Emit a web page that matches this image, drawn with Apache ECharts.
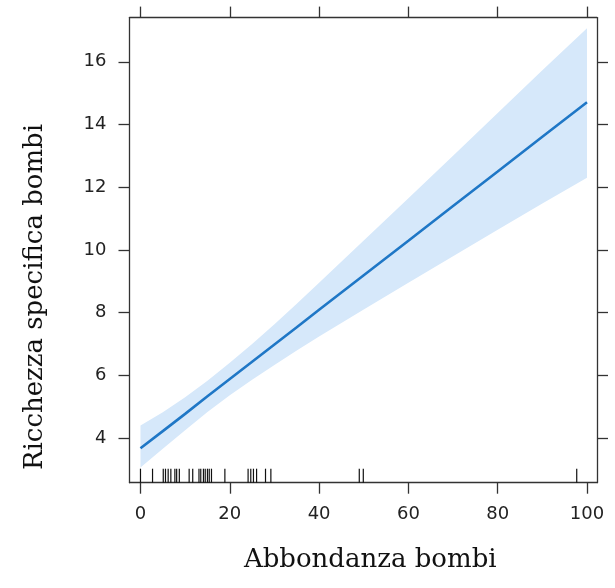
<!DOCTYPE html>
<html>
<head>
<meta charset="utf-8">
<script src="https://cdn.jsdelivr.net/npm/echarts@6/dist/echarts.min.js"></script>
<style>html,body{margin:0;padding:0;background:#fff;}#c{width:615px;height:588px;}</style>
</head>
<body>
<div id="c"></div>
<script>
// ---- data ----
const xGrid = [0, 5, 10, 15, 20, 25, 30, 35, 40, 50, 60, 70, 80, 90, 100];
const fit   = [3.67, 4.22, 4.77, 5.33, 5.88, 6.43, 6.98, 7.53, 8.09, 9.19, 10.29, 11.40, 12.50, 13.61, 14.71];
const upper = [4.40, 4.82, 5.30, 5.83, 6.40, 7.00, 7.63, 8.28, 8.95, 10.30, 11.65, 13.00, 14.37, 15.73, 17.07];
const lower = [3.06, 3.66, 4.25, 4.83, 5.36, 5.86, 6.33, 6.79, 7.24, 8.10, 8.95, 9.80, 10.64, 11.48, 12.30];
const rugX  = [0, 2.7, 5.1, 5.6, 6.2, 6.8, 7.7, 8.1, 8.7, 10.9, 11.7, 13.1, 13.5, 14.1, 14.5,
               15.0, 15.4, 15.9, 18.9, 24.1, 24.7, 25.3, 26.0, 28.0, 29.2, 49.0, 49.9, 97.7];
const xTicks = [0, 20, 40, 60, 80, 100];
const yTicks = [4, 6, 8, 10, 12, 14, 16];
const xName = 'Abbondanza bombi';
const yName = 'Ricchezza specifica bombi';

const X_MIN = -2.46, X_MAX = 102.24;
const Y_MIN = 2.574, Y_MAX = 17.41;

const chart = echarts.init(document.getElementById('c'), null, {renderer: 'canvas'});
const axisLineStyle = {color: '#333', width: 1.3};
const tickStyle = {color: '#333', width: 1.3};
const labelFont = {color: '#222', fontSize: 18, fontFamily: 'DejaVu Sans, Liberation Sans, sans-serif'};
const nameFont = 'DejaVu Serif, Liberation Serif, serif';

const lineData = xGrid.map((x, i) => [x, fit[i]]);

chart.setOption({
  animation: false,
  backgroundColor: '#fff',
  grid: {left: 129.5, right: 18, top: 17.6, bottom: 105.3, containLabel: false},
  xAxis: [{
    type: 'value', position: 'bottom', min: X_MIN, max: X_MAX,
    axisLine: {show: true, onZero: false, lineStyle: axisLineStyle},
    axisTick: {show: true, inside: false, length: 11, lineStyle: tickStyle, customValues: xTicks},
    axisLabel: Object.assign({show: true, margin: 23, customValues: xTicks}, labelFont),
    splitLine: {show: false},
    name: xName, nameLocation: 'middle', nameGap: 65,
    nameTextStyle: {fontSize: 26, color: '#111', fontFamily: nameFont, padding: [0, 0, 0, 14]}
  }, {
    type: 'value', position: 'top', min: X_MIN, max: X_MAX,
    axisLine: {show: true, onZero: false, lineStyle: axisLineStyle},
    axisTick: {show: true, inside: false, length: 11, lineStyle: tickStyle, customValues: xTicks},
    axisLabel: {show: false, customValues: xTicks},
    splitLine: {show: false}
  }],
  yAxis: [{
    type: 'value', position: 'left', min: Y_MIN, max: Y_MAX,
    axisLine: {show: true, onZero: false, lineStyle: axisLineStyle},
    axisTick: {show: true, inside: false, length: 11, lineStyle: tickStyle, customValues: yTicks},
    axisLabel: Object.assign({show: true, margin: 23, customValues: yTicks}, labelFont),
    splitLine: {show: false}
  }, {
    type: 'value', position: 'right', min: Y_MIN, max: Y_MAX,
    axisLine: {show: true, onZero: false, lineStyle: axisLineStyle},
    axisTick: {show: true, inside: false, length: 11, lineStyle: tickStyle, customValues: yTicks},
    axisLabel: {show: false, customValues: yTicks},
    splitLine: {show: false}
  }],
  graphic: [{
    type: 'text',
    style: {text: yName, fontSize: 26, fill: '#111', fontFamily: nameFont,
            textAlign: 'center', textVerticalAlign: 'middle'},
    position: [35, 297], rotation: Math.PI / 2
  }],
  series: [{
    type: 'custom', name: 'band', xAxisIndex: 0, yAxisIndex: 0,
    data: [[0]],
    clip: true,
    renderItem: function (params, api) {
      const pts = [];
      for (let i = 0; i < xGrid.length; i++) pts.push(api.coord([xGrid[i], upper[i]]));
      for (let i = xGrid.length - 1; i >= 0; i--) pts.push(api.coord([xGrid[i], lower[i]]));
      return {type: 'polygon', shape: {points: pts, smooth: 0}, style: {fill: '#d6e8fa', stroke: null}};
    },
    z: 1
  }, {
    type: 'line', name: 'fit', xAxisIndex: 0, yAxisIndex: 0,
    data: lineData, showSymbol: false, symbol: 'none',
    lineStyle: {color: '#1f77c6', width: 2.6},
    z: 3
  }, {
    type: 'custom', name: 'rug', xAxisIndex: 0, yAxisIndex: 0,
    data: rugX.map(v => [v]),
    renderItem: function (params, api) {
      const p = api.coord([api.value(0), Y_MIN]);
      return {type: 'line', shape: {x1: p[0], y1: p[1], x2: p[0], y2: p[1] - 14},
              style: {stroke: '#111', lineWidth: 1.2}};
    },
    z: 4
  }]
});
</script>
</body>
</html>
